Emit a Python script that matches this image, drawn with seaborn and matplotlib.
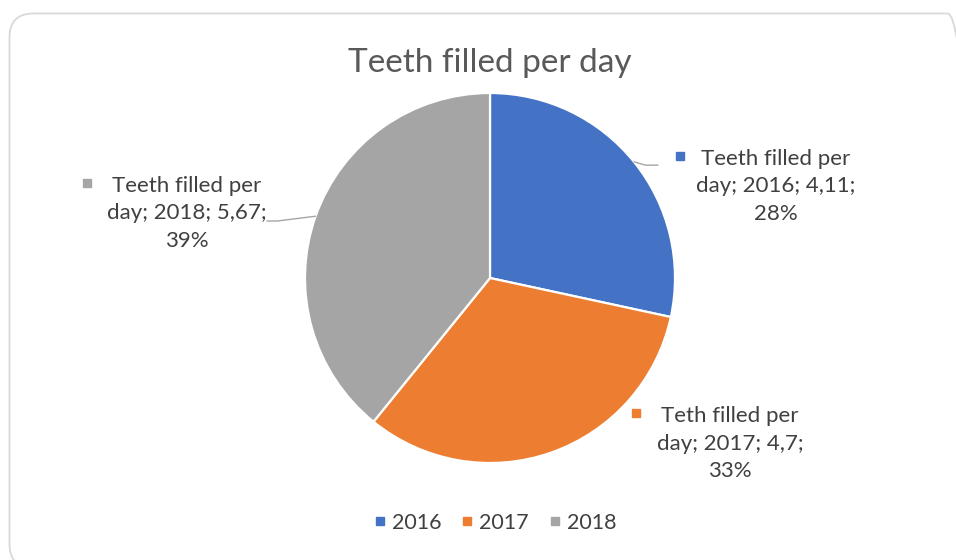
import numpy as np
import matplotlib
matplotlib.use("Agg")
import matplotlib.pyplot as plt
from matplotlib.patches import FancyBboxPatch
from matplotlib.lines import Line2D
from matplotlib.transforms import IdentityTransform
import seaborn as sns

# Data
years = ["2016", "2017", "2018"]
teeth_per_day = [4.11, 4.7, 5.67]
label_prefix = ["Teeth filled per", "Teth filled per", "Teeth filled per"]
value_text = ["4,11", "4,7", "5,67"]
title = "Teeth filled per day"

sns.set_theme(style="white")
plt.rcParams["font.family"] = ["Lato", "DejaVu Sans"]
colors = ["#4472C4", "#ED7D31", "#A5A5A5"]
text_color = "#404040"

W, H = 956, 560
fig = plt.figure(figsize=(W / 100, H / 100), dpi=100)
fig.patch.set_facecolor("white")

# Rounded chart-area frame (pixel coordinates)
frame = FancyBboxPatch((9.5, -8), 962, 554.5,
                       boxstyle="round,pad=0,rounding_size=24",
                       transform=IdentityTransform(), fill=False,
                       ec="#D9D9D9", lw=1.3)
fig.add_artist(frame)

# Square axes holding a unit-radius pie
cx, cy, r = 490, 278, 185
ax = fig.add_axes([(cx - r) / W, (H - cy - r) / H, 2 * r / W, 2 * r / H])

wedges, _ = ax.pie(teeth_per_day, colors=colors, startangle=90, counterclock=False,
                   radius=1, wedgeprops=dict(edgecolor="white", linewidth=1.6))
ax.set_xlim(-1, 1)
ax.set_ylim(-1, 1)
ax.set_aspect("equal")
ax.axis("off")

# Whole-number percentages that add up to 100 (largest remainder)
raw = [100 * v / sum(teeth_per_day) for v in teeth_per_day]
pcts = [int(np.floor(p)) for p in raw]
for k in np.argsort([-(p - np.floor(p)) for p in raw])[: 100 - sum(pcts)]:
    pcts[k] += 1

# Label placement (data units, pie radius = 1)
label_pos = [(1.546, 0.497), (1.297, -0.897), (-1.638, 0.351)]
leader_end = [[(0.84, 0.61), (0.908, 0.61)], None, [(-1.15, 0.308), (-1.205, 0.308)]]
marker_off = [(-0.52, 0.165), (-0.51, 0.165), (-0.54, 0.165)]

for i, w in enumerate(wedges):
    lx, ly = label_pos[i]
    txt = f"{label_prefix[i]}\nday; {years[i]}; {value_text[i]};\n{pcts[i]}%"
    ax.text(lx, ly, txt, ha="center", va="center", fontsize=16,
            color=text_color, linespacing=1.47, clip_on=False)
    ax.plot([lx + marker_off[i][0]], [ly + marker_off[i][1]], marker="s", ms=6,
            color=colors[i], clip_on=False, lw=0)
    if leader_end[i] is not None:
        mid = np.deg2rad((w.theta1 + w.theta2) / 2)
        xs = [np.cos(mid)] + [p[0] for p in leader_end[i]]
        ys = [np.sin(mid)] + [p[1] for p in leader_end[i]]
        ax.plot(xs, ys, color="#A6A6A6", lw=1, clip_on=False)

fig.text(cx / W, 1 - 63 / H, title, ha="center", va="center",
         fontsize=24, color="#595959")

handles = [Line2D([], [], marker="s", ls="", ms=6, color=c) for c in colors]
fig.legend(handles, years, loc="center", bbox_to_anchor=(496 / W, 1 - 523 / H),
           ncol=3, frameon=False, fontsize=15.5, labelcolor=text_color,
           handlelength=0.4, handletextpad=0.35, columnspacing=1.0)

fig.savefig("out.png", dpi=100)
